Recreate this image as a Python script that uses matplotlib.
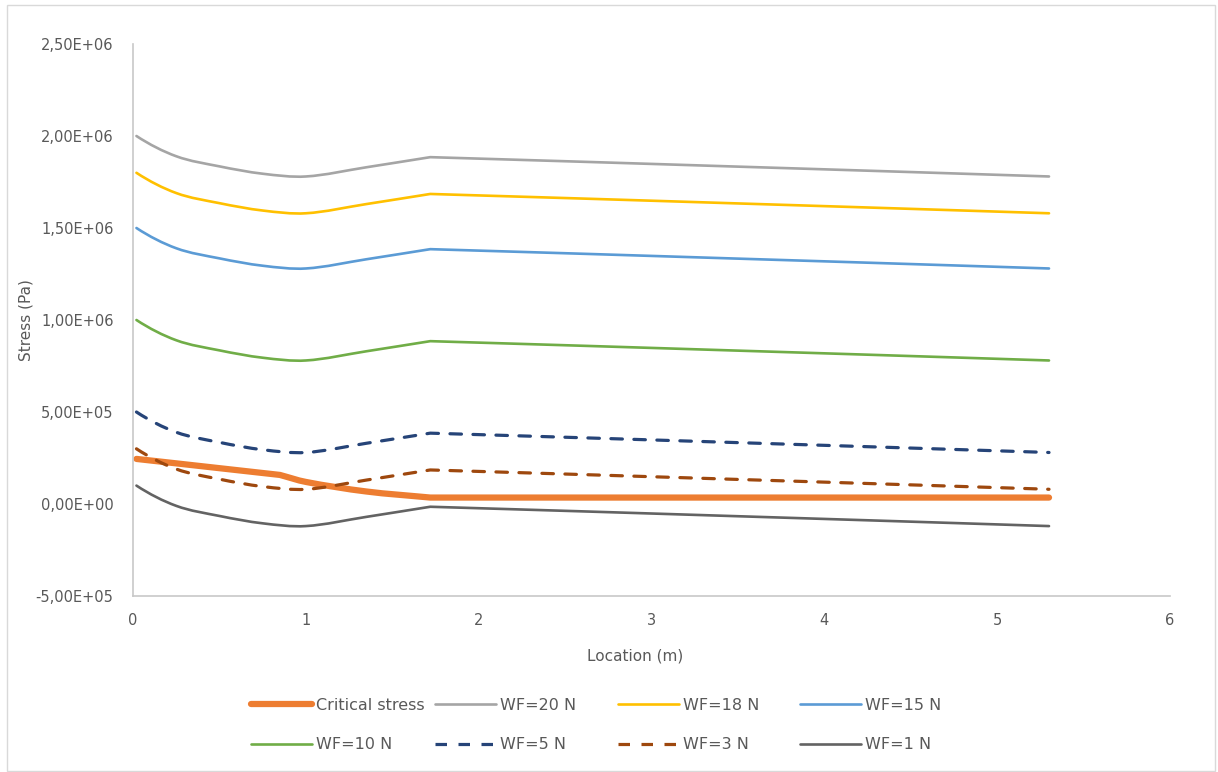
import matplotlib
matplotlib.use("Agg")
import matplotlib.pyplot as plt
from matplotlib.path import Path
from matplotlib.patches import PathPatch, Rectangle
from matplotlib.lines import Line2D
from matplotlib.ticker import FuncFormatter, MultipleLocator

plt.rcParams['font.family'] = ['DejaVu Sans']

# Sampling locations along the member (m)
location = [0.02, 0.25, 0.5, 0.75, 1.0, 1.35, 1.72, 2.6, 3.45, 4.3, 5.3]
critical_location = [0.02, 0.85, 1.0, 1.35, 1.72, 5.3]

# Stress values (Pa)
critical_stress = [2.45e5, 1.58e5, 1.2e5, 0.68e5, 0.35e5, 0.35e5]
wf20 = [2.00e6, 1.89e6, 1.835e6, 1.795e6, 1.78e6, 1.83e6, 1.885e6, 1.86e6, 1.835e6, 1.81e6, 1.78e6]
wf18 = [1.80e6, 1.69e6, 1.635e6, 1.595e6, 1.58e6, 1.63e6, 1.685e6, 1.66e6, 1.635e6, 1.61e6, 1.58e6]
wf15 = [1.50e6, 1.39e6, 1.335e6, 1.295e6, 1.28e6, 1.33e6, 1.385e6, 1.36e6, 1.335e6, 1.31e6, 1.28e6]
wf10 = [1.00e6, 0.89e6, 0.835e6, 0.795e6, 0.78e6, 0.83e6, 0.885e6, 0.86e6, 0.835e6, 0.81e6, 0.78e6]
wf5 = [0.50e6, 0.39e6, 0.335e6, 0.295e6, 0.28e6, 0.33e6, 0.385e6, 0.36e6, 0.335e6, 0.31e6, 0.28e6]
wf3 = [0.30e6, 0.19e6, 0.135e6, 0.095e6, 0.08e6, 0.13e6, 0.185e6, 0.16e6, 0.135e6, 0.11e6, 0.08e6]
wf1 = [0.10e6, -0.01e6, -0.065e6, -0.105e6, -0.12e6, -0.07e6, -0.015e6, -0.04e6, -0.065e6, -0.09e6, -0.12e6]

# Support location where the stress curves have a corner
support = 1.72

x_ticks = [0, 1, 2, 3, 4, 5, 6]
TEXT = '#595959'
AXIS = '#C8C8C8'


def smooth_path(xs, ys, corners=()):
    """Cubic Bezier path through the points; corners keep one-sided tangents."""
    n = len(xs)
    sec = [(ys[i + 1] - ys[i]) / (xs[i + 1] - xs[i]) for i in range(n - 1)]
    left, right = [0.0] * n, [0.0] * n
    for i in range(1, n - 1):
        if xs[i] in corners:
            left[i], right[i] = sec[i - 1], sec[i]
        else:
            m = (ys[i + 1] - ys[i - 1]) / (xs[i + 1] - xs[i - 1])
            left[i] = right[i] = m
    right[0] = 2 * sec[0] - left[1] if n > 2 else sec[0]
    left[-1] = 2 * sec[-1] - right[-2] if n > 2 else sec[-1]
    verts = [(xs[0], ys[0])]
    codes = [Path.MOVETO]
    for i in range(n - 1):
        h = xs[i + 1] - xs[i]
        verts += [(xs[i] + h / 3, ys[i] + right[i] * h / 3),
                  (xs[i + 1] - h / 3, ys[i + 1] - left[i + 1] * h / 3),
                  (xs[i + 1], ys[i + 1])]
        codes += [Path.CURVE4] * 3
    return Path(verts, codes)


fig = plt.figure(figsize=(12.18, 7.72), dpi=100)
fig.patches.append(Rectangle((7 / 1218, 1 - 771 / 772), 1208 / 1218, 766 / 772,
                             transform=fig.transFigure, fill=False,
                             edgecolor='#D9D9D9', linewidth=1.0))
ax = fig.add_axes([133 / 1218, 1 - 596 / 772, (1170 - 133) / 1218, (596 - 44) / 772])

series = [
    ("Critical stress", critical_location, critical_stress, '#ED7D31', 4.5, '-', (0.85, support)),
    ("WF=20 N", location, wf20, '#A5A5A5', 1.9, '-', (support,)),
    ("WF=18 N", location, wf18, '#FFC000', 1.9, '-', (support,)),
    ("WF=15 N", location, wf15, '#5B9BD5', 1.9, '-', (support,)),
    ("WF=10 N", location, wf10, '#70AD47', 1.9, '-', (support,)),
    ("WF=5 N", location, wf5, '#264478', 2.3, (0, (3.6, 3.6)), (support,)),
    ("WF=3 N", location, wf3, '#9E480E', 2.3, (0, (3.6, 3.6)), (support,)),
    ("WF=1 N", location, wf1, '#636363', 1.9, '-', (support,)),
]

handles = {}
for label, xs, ys, color, lw, ls, corners in series:
    patch = PathPatch(smooth_path(xs, ys, corners), facecolor='none',
                      edgecolor=color, linewidth=lw, linestyle=ls,
                      capstyle='round', joinstyle='round')
    ax.add_patch(patch)
    handles[label] = Line2D([], [], color=color, linewidth=lw, linestyle=ls,
                            solid_capstyle='round')

ax.set_xlim(0, 6)
ax.set_ylim(-5e5, 2.5e6)
ax.set_xticks(x_ticks)
ax.yaxis.set_major_locator(MultipleLocator(5e5))


def sci_comma(v, pos):
    return f"{v:.2E}".replace('.', ',')


ax.yaxis.set_major_formatter(FuncFormatter(sci_comma))
ax.tick_params(axis='both', length=0, labelcolor=TEXT, labelsize=10.5)
ax.tick_params(axis='y', pad=14)
ax.tick_params(axis='x', pad=12)
for side in ('top', 'right'):
    ax.spines[side].set_visible(False)
for side in ('left', 'bottom'):
    ax.spines[side].set_color(AXIS)
    ax.spines[side].set_linewidth(1.2)

ax.set_xlabel("Location (m)", color=TEXT, fontsize=11)
ax.xaxis.set_label_coords(0.484, -0.096)
ax.set_ylabel("Stress (Pa)", color=TEXT, fontsize=11)
ax.yaxis.set_label_coords(-0.096, 0.5)

# Legend: four columns, two rows
columns = [("Critical stress", "WF=10 N"), ("WF=20 N", "WF=5 N"),
           ("WF=18 N", "WF=3 N"), ("WF=15 N", "WF=1 N")]
col_x = [251, 435, 618, 800]
for (top, bottom), cx in zip(columns, col_x):
    leg = fig.legend(handles=[handles[top], handles[bottom]], labels=[top, bottom],
                     loc='center left', bbox_to_anchor=(cx / 1218, 1 - 725 / 772),
                     frameon=False, fontsize=11.5, handlelength=3.8,
                     handletextpad=0.25, labelspacing=1.55, borderpad=0,
                     borderaxespad=0)
    for t in leg.get_texts():
        t.set_color(TEXT)

fig.savefig("out.png", dpi=100)
